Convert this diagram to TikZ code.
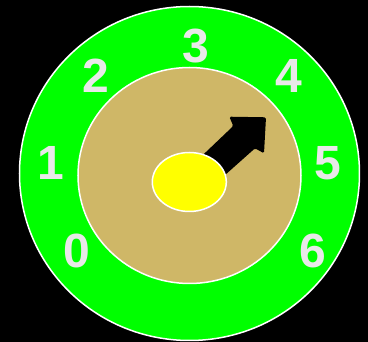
\documentclass[tikz,border=0pt]{standalone}
\usepackage{fontspec}
\setmainfont{Liberation Sans}
\usetikzlibrary{shapes.geometric}
\definecolor{dialgreen}{HTML}{00FF00}
\definecolor{dialtan}{HTML}{CFB767}
\definecolor{dialyellow}{HTML}{FFFF00}
\definecolor{digitgray}{HTML}{E9E9E9}
\begin{document}
\begin{tikzpicture}[x=1pt,y=-1pt,
  ring/.style={draw=white,line width=1.5pt},
  digit/.style={text=digitgray,font=\fontsize{48}{48}\selectfont\bfseries,inner sep=0pt,anchor=center}]
\fill[black] (0,0) rectangle (368,342);
\useasboundingbox (0,0) rectangle (368,342);
\begin{scope}
\clip (0,0) rectangle (368,342);
\node[ring,fill=dialgreen,ellipse,minimum width=340pt,minimum height=334pt,inner sep=0pt] (outer) at (189.5,173.5) {};
\end{scope}
\node[ring,fill=dialtan,ellipse,minimum width=223pt,minimum height=216pt,inner sep=0pt] (inner) at (189.5,175.5) {};
\fill[black,rounded corners=1.5pt] (185,172) -- (233.3,126) -- (229.3,116.7) -- (266,117.3) -- (264,153.3) -- (255,148.3) -- (206,192) -- cycle;
\node[ring,fill=dialyellow,ellipse,minimum width=74pt,minimum height=59pt,inner sep=0pt] (hub) at (189.3,182) {};
\node[digit] (d0) at (77,251) {0};
\node[digit] (d1) at (51,163) {1};
\node[digit] (d2) at (96,76) {2};
\node[digit] (d3) at (195.5,46) {3};
\node[digit] (d4) at (289,76) {4};
\node[digit] (d5) at (328,163) {5};
\node[digit] (d6) at (313,251) {6};
\end{tikzpicture}
\end{document}
